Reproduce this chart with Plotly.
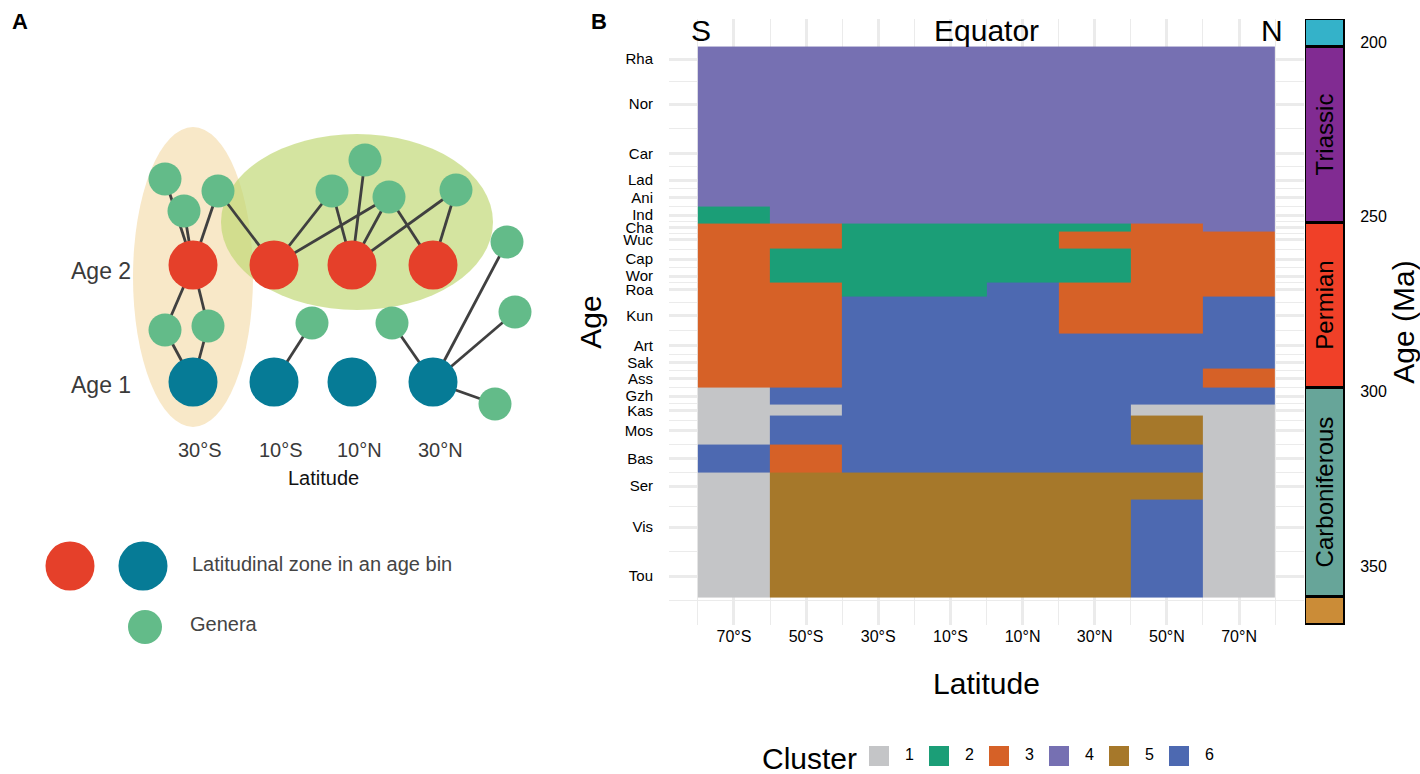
import plotly.graph_objects as go

W, H = 1420, 774
FONT = "Liberation Sans, Arial, sans-serif"

# ---------------- Panel B data ----------------
stages = ["Rha", "Nor", "Car", "Lad", "Ani", "Ind", "Cha", "Wuc", "Cap", "Wor", "Roa",
          "Kun", "Art", "Sak", "Ass", "Gzh", "Kas", "Mos", "Bas", "Ser", "Vis", "Tou"]
stage_edges = [201.3, 208.5, 227.0, 237.0, 242.0, 247.2, 251.9, 254.14, 259.1, 265.1, 268.8,
               272.95, 283.5, 290.1, 293.52, 298.9, 303.7, 307.0, 315.2, 323.2, 330.9, 346.7, 358.9]
lat_edges = [-80, -60, -40, -20, 0, 20, 40, 60, 80]
lat_ticks = [-70, -50, -30, -10, 10, 30, 50, 70]
lat_labels = ["70°S", "50°S", "30°S", "10°S", "10°N", "30°N", "50°N", "70°N"]

# cluster of each stage (rows) x latitude band (columns, 80°S -> 80°N)
cluster_grid = [
    [4, 4, 4, 4, 4, 4, 4, 4],  # Rha
    [4, 4, 4, 4, 4, 4, 4, 4],  # Nor
    [4, 4, 4, 4, 4, 4, 4, 4],  # Car
    [4, 4, 4, 4, 4, 4, 4, 4],  # Lad
    [4, 4, 4, 4, 4, 4, 4, 4],  # Ani
    [2, 4, 4, 4, 4, 4, 4, 4],  # Ind
    [3, 3, 2, 2, 2, 2, 3, 4],  # Cha
    [3, 3, 2, 2, 2, 3, 3, 3],  # Wuc
    [3, 2, 2, 2, 2, 2, 3, 3],  # Cap
    [3, 2, 2, 2, 2, 2, 3, 3],  # Wor
    [3, 3, 2, 2, 6, 3, 3, 3],  # Roa
    [3, 3, 6, 6, 6, 3, 3, 6],  # Kun
    [3, 3, 6, 6, 6, 6, 6, 6],  # Art
    [3, 3, 6, 6, 6, 6, 6, 6],  # Sak
    [3, 3, 6, 6, 6, 6, 6, 3],  # Ass
    [1, 6, 6, 6, 6, 6, 6, 6],  # Gzh
    [1, 1, 6, 6, 6, 6, 1, 1],  # Kas
    [1, 6, 6, 6, 6, 6, 5, 1],  # Mos
    [6, 3, 6, 6, 6, 6, 6, 1],  # Bas
    [1, 5, 5, 5, 5, 5, 5, 1],  # Ser
    [1, 5, 5, 5, 5, 5, 6, 1],  # Vis
    [1, 5, 5, 5, 5, 5, 6, 1],  # Tou
]
cluster_ids = ["1", "2", "3", "4", "5", "6"]
cluster_colors = ["#C4C5C7", "#1B9E77", "#D66127", "#7670B2", "#A6782A", "#4D69B1"]

periods = ["Jurassic", "Triassic", "Permian", "Carboniferous", "Devonian"]
period_top = [193.4, 201.3, 251.9, 298.9, 358.9]
period_base = [201.3, 251.9, 298.9, 358.9, 366.8]
period_labels = ["", "Triassic", "Permian", "Carboniferous", ""]
period_colors = ["#34B2C9", "#812B92", "#F04028", "#67A599", "#CB8C37"]
age_ticks = [200, 250, 300, 350]

top_labels = ["S", "Equator", "N"]
top_label_lat = [-79, 0, 79]

# ---------------- Panel A (schematic) data ----------------
zone_x = [193, 274, 352, 433]
zone_lat = ["30°S", "10°S", "10°N", "30°N"]
age2_y = 265
age1_y = 382
genera_x = [165, 184, 218, 332, 365, 389, 456, 507, 165, 208, 312, 392, 515, 495]
genera_y = [179, 211, 191, 191, 160, 197, 190, 242, 330, 326, 323, 323, 312, 404]
# edges: (genus index, age row, zone index)
edges = [(0, 2, 0), (1, 2, 0), (2, 2, 0), (2, 2, 1), (3, 2, 1), (3, 2, 2), (4, 2, 2),
         (5, 2, 1), (5, 2, 2), (5, 2, 3), (6, 2, 2), (6, 2, 3),
         (8, 2, 0), (9, 2, 0), (8, 1, 0), (9, 1, 0), (10, 1, 1), (11, 1, 3),
         (7, 1, 3), (12, 1, 3), (13, 1, 3)]

RED, BLUE, GREEN = "#E5402A", "#067B96", "#63BB89"

# ---------------- helpers ----------------
def fx(p):
    return p / W

def fy(p):
    return 1 - p / H

fig = go.Figure()

# ---------- Panel B heatmap ----------
n = len(cluster_ids)
cscale = []
for i, c in enumerate(cluster_colors):
    cscale.append([i / n, c])
    cscale.append([(i + 1) / n, c])

fig.add_trace(go.Heatmap(
    x=lat_edges, y=stage_edges, z=cluster_grid,
    zmin=0.5, zmax=n + 0.5, colorscale=cscale, showscale=False,
    xaxis="x", yaxis="y", hoverinfo="skip"))

stage_mid = [(a + b) / 2 for a, b in zip(stage_edges[:-1], stage_edges[1:])]
minor_y = [(a + b) / 2 for a, b in zip(stage_mid[:-1], stage_mid[1:])]
minor_y.append(stage_mid[-1] + (stage_mid[-1] - stage_mid[-2]) / 2)
span = stage_edges[-1] - stage_edges[0]
y_range = [stage_edges[-1] + 0.05 * span, stage_edges[0] - 0.05 * span]
x_span = lat_edges[-1] - lat_edges[0]
x_range = [lat_edges[0] - 0.05 * x_span, lat_edges[-1] + 0.05 * x_span]

# geological time scale bar
fig.add_trace(go.Bar(
    x=[0] * len(periods), base=period_top,
    y=[b - t for t, b in zip(period_top, period_base)],
    width=1, marker=dict(color=period_colors, line=dict(color="black", width=3)),
    text=period_labels, textposition="inside", insidetextanchor="middle",
    textangle=-90, constraintext="none",
    textfont=dict(family=FONT, size=24, color="black"),
    cliponaxis=False, xaxis="x3", yaxis="y2", hoverinfo="skip", showlegend=False))

# ---------- Panel A ----------
ex, ey = [], []
for g, row, z in edges:
    ex += [genera_x[g], zone_x[z], None]
    ey += [genera_y[g], age2_y if row == 2 else age1_y, None]
fig.add_trace(go.Scatter(x=ex, y=ey, mode="lines", line=dict(color="#404040", width=2.8),
                         xaxis="x4", yaxis="y4", hoverinfo="skip", showlegend=False))
fig.add_trace(go.Scatter(x=genera_x, y=genera_y, mode="markers",
                         marker=dict(size=33, color=GREEN, opacity=1, line=dict(width=0)),
                         xaxis="x4", yaxis="y4", hoverinfo="skip", showlegend=False))
fig.add_trace(go.Scatter(x=zone_x, y=[age2_y] * 4, mode="markers",
                         marker=dict(size=49, color=RED, opacity=1, line=dict(width=0)),
                         xaxis="x4", yaxis="y4", hoverinfo="skip", showlegend=False))
fig.add_trace(go.Scatter(x=zone_x, y=[age1_y] * 4, mode="markers",
                         marker=dict(size=49, color=BLUE, opacity=1, line=dict(width=0)),
                         xaxis="x4", yaxis="y4", hoverinfo="skip", showlegend=False))
# Panel A key
fig.add_trace(go.Scatter(x=[70, 143, 145], y=[566, 566, 627], mode="markers",
                         marker=dict(size=[49, 49, 34], color=[RED, BLUE, GREEN], opacity=1,
                                     line=dict(width=0)),
                         xaxis="x4", yaxis="y4", hoverinfo="skip", showlegend=False))

# ---------- Cluster legend ----------
leg_x0, leg_dx, leg_y = 879, 60, 756
fig.add_trace(go.Scatter(
    x=[leg_x0 + leg_dx * i for i in range(n)], y=[leg_y] * n, mode="markers",
    marker=dict(symbol="square", size=20, color=cluster_colors, opacity=1, line=dict(width=0)),
    xaxis="x4", yaxis="y4", hoverinfo="skip", showlegend=False))
fig.add_trace(go.Scatter(
    x=[leg_x0 + leg_dx * i + 26 for i in range(n)], y=[leg_y] * n, mode="text",
    text=cluster_ids, textposition="middle right",
    textfont=dict(family=FONT, size=16, color="black"),
    xaxis="x4", yaxis="y4", hoverinfo="skip", showlegend=False))

shapes = [
    dict(type="circle", xref="x4", yref="y4", x0=133, x1=253, y0=127, y1=427,
         fillcolor="#F8E8C8", line=dict(width=0), layer="below"),
    dict(type="circle", xref="x4", yref="y4", x0=221, x1=493, y0=134, y1=310,
         fillcolor="rgba(191,215,113,0.67)", line=dict(width=0), layer="below"),
]

ann = []
def text(x, y, s, size, color="#3A3A3A", xanchor="center", bold=False, ref=("x4", "y4")):
    ann.append(dict(x=x, y=y, xref=ref[0], yref=ref[1], text=f"<b>{s}</b>" if bold else s,
                    showarrow=False, xanchor=xanchor, yanchor="middle",
                    font=dict(family=FONT, size=size, color=color)))

text(10, 21, "A", 22, "black", "left", True)
text(589, 21, "B", 22, "black", "left", True)
text(133, age2_y + 6, "Age 2", 23, "#3A3A3A", "right")
text(133, age1_y + 3, "Age 1", 23, "#3A3A3A", "right")
for zx, zl in zip(zone_x, zone_lat):
    text(zx + 7, 450, zl, 20, "#3A3A3A")
text(323, 478, "Latitude", 20, "#111111")
text(190, 564, "Latitudinal zone in an age bin", 20, "#444444", "left")
text(188, 624, "Genera", 20, "#444444", "left")
text(760, 758, "Cluster", 30, "black", "left")
for lat, lab in zip(top_label_lat, top_labels):
    ann.append(dict(x=lat, y=196.6, xref="x", yref="y", text=lab, showarrow=False,
                    xanchor="center", yanchor="middle",
                    font=dict(family=FONT, size=30, color="black")))

grid = "#EBEBEB"
fig.update_layout(
    width=W, height=H, margin=dict(l=0, r=0, t=0, b=0),
    paper_bgcolor="white", plot_bgcolor="rgba(0,0,0,0)",
    font=dict(family=FONT, color="black"),
    showlegend=False, bargap=0,
    shapes=shapes, annotations=ann,
    xaxis=dict(domain=[fx(669), fx(1304)], range=x_range, anchor="y",
               tickmode="array", tickvals=lat_ticks, ticktext=lat_labels,
               tickfont=dict(size=16, color="black"), ticks="",
               showgrid=True, gridcolor=grid, gridwidth=2.6, zeroline=False, showline=False,
               minor=dict(tickvals=lat_edges, showgrid=True, gridcolor=grid, gridwidth=1.4),
               title=dict(text="Latitude", font=dict(size=30, color="black"), standoff=28)),
    yaxis=dict(domain=[fy(625), fy(19)], range=y_range, anchor="x",
               tickmode="array", tickvals=stage_mid, ticktext=stages,
               tickfont=dict(size=15, color="black"), ticks="outside", ticklen=12,
               tickcolor="rgba(0,0,0,0)",
               showgrid=True, gridcolor=grid, gridwidth=2.6, zeroline=False, showline=False,
               minor=dict(tickvals=minor_y, showgrid=True, gridcolor=grid, gridwidth=1.4),
               title=dict(text="Age", font=dict(size=30, color="black"), standoff=12)),
    xaxis3=dict(domain=[fx(1305), fx(1345)], range=[-0.5, 0.5], anchor="y2", visible=False),
    yaxis2=dict(domain=[fy(625), fy(19)], range=y_range, anchor="x3", side="right",
                tickmode="array", tickvals=age_ticks,
                tickfont=dict(size=16, color="black"), ticks="outside", ticklen=11,
                tickcolor="rgba(0,0,0,0)", showgrid=False, zeroline=False, showline=False,
                title=dict(text="Age (Ma)", font=dict(size=30, color="black"), standoff=2)),
    xaxis4=dict(domain=[0, 1], range=[0, W], anchor="y4", visible=False, fixedrange=True),
    yaxis4=dict(domain=[0, 1], range=[H, 0], anchor="x4", visible=False, fixedrange=True),
)

fig.write_html("out.html", config={"displayModeBar": False},
               post_script="document.body.style.margin='0';document.body.style.overflow='hidden';")
